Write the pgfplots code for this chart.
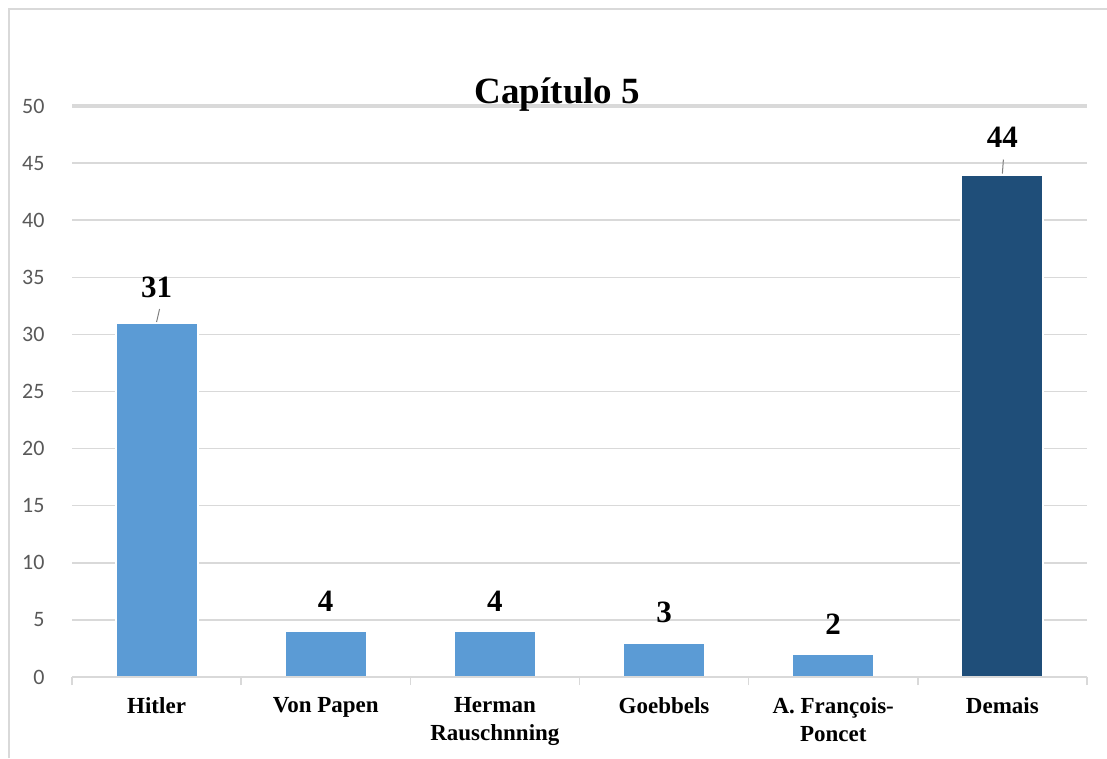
\documentclass[border=0pt]{standalone}
\usepackage{pgfplots}
\pgfplotsset{compat=1.18}
\usepackage{fontspec}
\setmainfont{Liberation Serif}
\newfontfamily\calibri{Carlito}
\definecolor{barlight}{HTML}{5B9BD5}
\definecolor{bardark}{HTML}{1F4E79}
\definecolor{gridgray}{HTML}{D9D9D9}
\definecolor{ticktext}{HTML}{595959}
\begin{document}
\begin{tikzpicture}[x=1pt,y=1pt]
\useasboundingbox (0,0) rectangle (1107,758);
% chart frame
\draw[gridgray, line width=1.5pt] (9,0) -- (9,749) -- (1107,749);
\begin{axis}[
  at={(72pt,81pt)}, anchor=south west,
  scale only axis, width=1015pt, height=571pt,
  xmin=-0.5, xmax=5.5, ymin=0, ymax=50,
  clip=false,
  axis x line*=bottom, axis y line*=left,
  x axis line style={gridgray, line width=1.5pt, -},
  y axis line style={draw=none},
  xtick={0,1,2,3,4,5},
  xticklabels={Hitler, Von Papen, {Herman\\Rauschnning}, Goebbels, {A. François-\\Poncet}, Demais},
  major x tick style={draw=none},
  minor xtick={-0.5,0.5,1.5,2.5,3.5,4.5,5.5},
  minor tick length=8pt,
  minor x tick style={gridgray, line width=1.5pt},
  tick align=outside,
  x tick label style={font=\fontsize{23}{28}\selectfont\bfseries, align=center, anchor=north, inner sep=0pt, yshift=-16pt},
  ytick={0,5,...,50},
  ymajorgrids,
  major grid style={gridgray, line width=1.5pt},
  major y tick style={draw=none},
  /pgf/number format/assume math mode=true,
  y tick label style={font=\calibri\fontsize{22}{26}\selectfont, text=ticktext, anchor=east, inner sep=0pt, xshift=-23pt},
]
% heavier top gridline
\draw[gridgray, line width=3.5pt] (axis cs:-0.5,50) -- (axis cs:5.5,50);

\addplot[ybar, bar width=82pt, bar shift=0pt, fill=barlight, draw=white, line width=2pt,
  nodes near coords, every node near coord/.style={font=\fontsize{31}{36}\selectfont\bfseries, text=black, anchor=south, inner sep=0pt, yshift=24pt}]
  coordinates {(0,31)};
\addplot[ybar, bar width=82pt, bar shift=0pt, fill=barlight, draw=white, line width=2pt,
  nodes near coords, every node near coord/.style={font=\fontsize{31}{36}\selectfont\bfseries, text=black, anchor=south, inner sep=0pt, yshift=19pt}]
  coordinates {(1,4) (2,4) (3,3) (4,2)};
\addplot[ybar, bar width=82pt, bar shift=0pt, fill=bardark, draw=white, line width=2pt,
  nodes near coords, every node near coord/.style={font=\fontsize{31}{36}\selectfont\bfseries, text=black, anchor=south, inner sep=0pt, yshift=26pt}]
  coordinates {(5,44)};

% leader lines for the moved labels
\draw[gray, line width=1pt] ([yshift=1pt]axis cs:0,31) -- ([xshift=3pt,yshift=14pt]axis cs:0,31);
\draw[gray, line width=1pt] ([yshift=1pt]axis cs:5,44) -- ([xshift=1pt,yshift=15pt]axis cs:5,44);

% baseline over the bar bottoms
\draw[gridgray, line width=1.5pt] (axis cs:-0.5,0) -- (axis cs:5.5,0);

\node[font=\fontsize{37}{42}\selectfont\bfseries, anchor=base, inner sep=0pt] at (axis cs:2.5,50) [yshift=2pt, xshift=-22pt] {Capítulo 5};
\end{axis}
\end{tikzpicture}
\end{document}
